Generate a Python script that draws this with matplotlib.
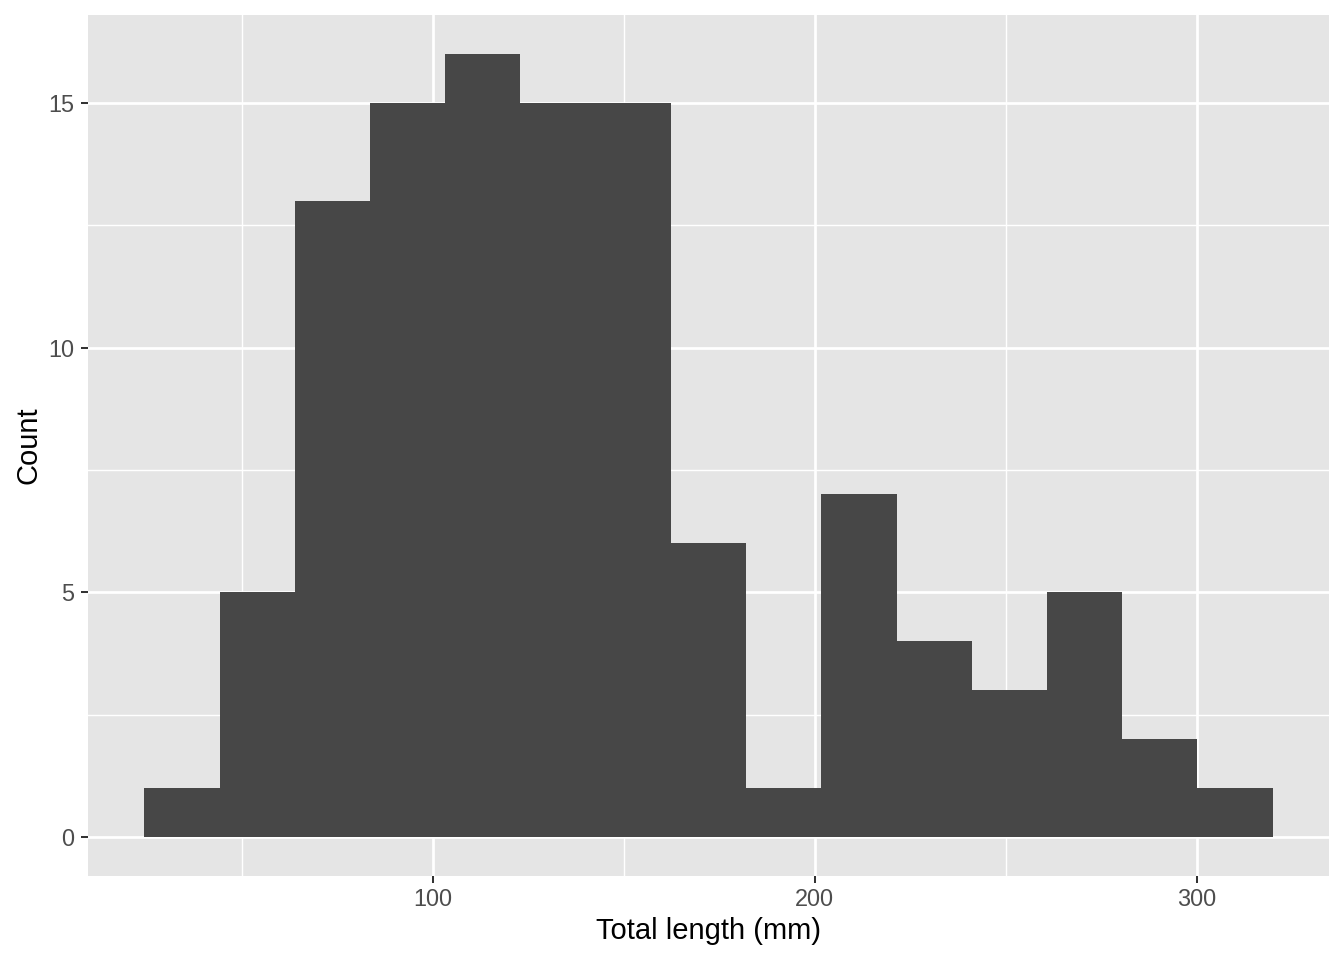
import matplotlib
matplotlib.use("Agg")
import matplotlib.pyplot as plt
import numpy as np
from matplotlib.ticker import MultipleLocator, FixedLocator

# Data
bin_start = 24.5
bin_width = 19.69
counts = [1, 5, 13, 15, 16, 15, 15, 6, 1, 7, 4, 3, 5, 2, 1]
x_ticks = [100, 200, 300]
y_ticks = [0, 5, 10, 15]
x_label = "Total length (mm)"
y_label = "Count"

edges = bin_start + bin_width * np.arange(len(counts) + 1)

plt.rcParams['font.family'] = ['Liberation Sans', 'DejaVu Sans']

W, H = 1344, 960
fig = plt.figure(figsize=(W / 100, H / 100), dpi=100)
L, R, T, B = 88, 1329, 15, 876
ax = fig.add_axes([L / W, 1 - B / H, (R - L) / W, (B - T) / H])

ax.set_facecolor('#E5E5E5')
for s in ax.spines.values():
    s.set_visible(False)

ax.bar(edges[:-1], counts, width=bin_width, align='edge', color='#474747',
       edgecolor='none', linewidth=0, zorder=3)

xmin, xmax = edges[0], edges[-1]
xr = xmax - xmin
ax.set_xlim(xmin - 0.05 * xr, xmax + 0.05 * xr)
ymax = max(counts)
ax.set_ylim(-0.05 * ymax, ymax * 1.05)

ax.xaxis.set_major_locator(FixedLocator(x_ticks))
ax.xaxis.set_minor_locator(FixedLocator([50, 150, 250]))
ax.yaxis.set_major_locator(FixedLocator(y_ticks))
ax.yaxis.set_minor_locator(FixedLocator([2.5, 7.5, 12.5]))

ax.grid(which='major', color='white', linewidth=1.95, zorder=1)
ax.grid(which='minor', color='white', linewidth=1.0, zorder=1)
ax.set_axisbelow(True)

ax.tick_params(which='major', length=5.3, width=1.45, color='#333333',
               labelsize=16.9, labelcolor='#4D4D4D')
ax.tick_params(axis='x', which='major', pad=3.5)
ax.tick_params(axis='y', which='major', pad=4.4)
ax.tick_params(which='minor', length=0)

fig.text((L + R) / 2 / W, 1 - 939 / H, x_label, ha='center', va='baseline',
         fontsize=21, color='black')
fig.text(15 / W, 1 - (T + B) / 2 / H, y_label, ha='left', va='center',
         rotation=90, fontsize=21, color='black')

fig.savefig('out.png', dpi=100, facecolor='white')
